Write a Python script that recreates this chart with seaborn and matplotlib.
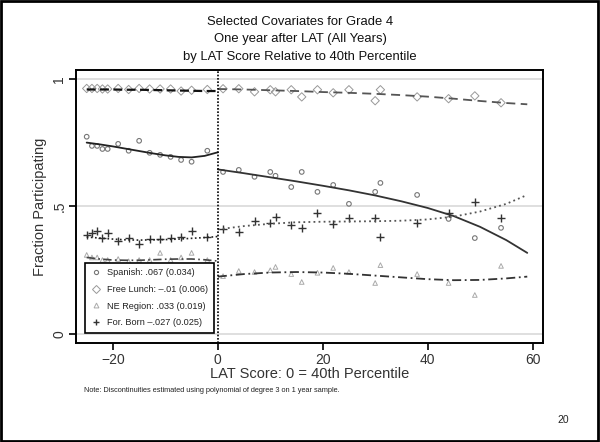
import numpy as np
import pandas as pd
import matplotlib
matplotlib.use("Agg")
import matplotlib.pyplot as plt
from matplotlib.lines import Line2D
from matplotlib.patches import Rectangle
import seaborn as sns

# ---------------- data ----------------
x_left = [-25, -24, -23, -22, -21, -19, -17, -15, -13, -11, -9, -7, -5, -2]
x_right = [1, 4, 7, 10, 11, 14, 16, 19, 22, 25, 30, 31, 38, 44, 49, 54]

spanish_left = [0.773, 0.737, 0.737, 0.725, 0.725, 0.745, 0.718, 0.757, 0.71, 0.702, 0.694, 0.682, 0.675, 0.718]
spanish_right = [0.635, 0.643, 0.616, 0.635, 0.62, 0.576, 0.635, 0.557, 0.584, 0.51, 0.557, 0.592, 0.545, 0.451, 0.376, 0.416]

lunch_left = [0.962, 0.962, 0.962, 0.96, 0.96, 0.962, 0.958, 0.962, 0.96, 0.96, 0.96, 0.952, 0.955, 0.958]
lunch_right = [0.961, 0.961, 0.949, 0.957, 0.949, 0.957, 0.929, 0.957, 0.945, 0.957, 0.914, 0.957, 0.929, 0.922, 0.933, 0.906]

ne_left = [0.31, 0.30, 0.30, 0.29, 0.29, 0.294, 0.285, 0.29, 0.29, 0.318, 0.29, 0.30, 0.318, 0.29]
ne_right = [0.227, 0.247, 0.243, 0.25, 0.263, 0.235, 0.204, 0.24, 0.259, 0.243, 0.2, 0.27, 0.235, 0.2, 0.153, 0.267]

born_left = [0.388, 0.396, 0.404, 0.376, 0.396, 0.365, 0.376, 0.353, 0.373, 0.373, 0.376, 0.38, 0.404, 0.38]
born_right = [0.412, 0.40, 0.443, 0.435, 0.459, 0.427, 0.416, 0.475, 0.431, 0.455, 0.455, 0.38, 0.435, 0.475, 0.518, 0.455]

# fitted curves (read at grid positions)
fit_x_left = [-25, -22.5, -20, -17.5, -15, -12.5, -10, -7.5, -5, -2.5, 0]
fit_x_right = [0, 5, 10, 15, 20, 25, 30, 35, 40, 45, 50, 55, 59]

spanish_fit_left = [0.75, 0.743, 0.735, 0.726, 0.717, 0.708, 0.70, 0.694, 0.692, 0.698, 0.712]
spanish_fit_right = [0.645, 0.63, 0.614, 0.598, 0.581, 0.563, 0.543, 0.52, 0.494, 0.462, 0.42, 0.368, 0.318]

lunch_fit_left = [0.958, 0.958, 0.958, 0.957, 0.957, 0.956, 0.955, 0.954, 0.953, 0.952, 0.952]
lunch_fit_right = [0.96, 0.958, 0.955, 0.952, 0.948, 0.945, 0.941, 0.936, 0.93, 0.922, 0.913, 0.905, 0.90]

ne_fit_left = [0.30, 0.294, 0.29, 0.289, 0.289, 0.291, 0.293, 0.294, 0.294, 0.291, 0.286]
ne_fit_right = [0.225, 0.235, 0.241, 0.243, 0.241, 0.236, 0.229, 0.222, 0.215, 0.211, 0.212, 0.218, 0.225]

born_fit_left = [0.38, 0.376, 0.372, 0.369, 0.368, 0.369, 0.37, 0.372, 0.375, 0.378, 0.382]
born_fit_right = [0.41, 0.423, 0.432, 0.438, 0.44, 0.441, 0.442, 0.444, 0.449, 0.46, 0.48, 0.51, 0.545]

legend_labels = ["Spanish: .067 (0.034)", "Free Lunch: \u2013.01 (0.006)",
                 "NE Region: .033 (0.019)", "For. Born \u2013.027 (0.025)"]

# ---------------- plotting ----------------
sns.set_style("white")
plt.rcParams['font.family'] = ['Liberation Sans', 'DejaVu Sans']

fig = plt.figure(figsize=(6.0, 4.42), dpi=100)
ax = fig.add_axes([0.127, 0.224, 0.778, 0.618])

# gridlines
for g in [0, 0.5, 1]:
    ax.axhline(g, color="#d9d9d9", lw=1.2, zorder=0)

pts = pd.DataFrame({
    "x": x_left + x_right,
    "spanish": spanish_left + spanish_right,
    "lunch": lunch_left + lunch_right,
    "ne": ne_left + ne_right,
    "born": born_left + born_right,
})

sns.scatterplot(data=pts, x="x", y="lunch", marker="D", s=18, facecolors="none",
                edgecolor="#999999", linewidth=0.7, ax=ax, zorder=3)
sns.scatterplot(data=pts, x="x", y="spanish", marker="o", s=11, facecolors="none",
                edgecolor="#777777", linewidth=0.8, ax=ax, zorder=3)
sns.scatterplot(data=pts, x="x", y="ne", marker="^", s=11, facecolors="none",
                edgecolor="#aaaaaa", linewidth=0.7, ax=ax, zorder=3)
sns.scatterplot(data=pts, x="x", y="born", marker="+", s=26, color="#333333",
                linewidth=1.0, ax=ax, zorder=3)

def fitline(xs, ys, **kw):
    d = pd.DataFrame({"x": xs, "y": ys})
    sns.lineplot(data=d, x="x", y="y", ax=ax, estimator=None, sort=True, **kw)

fitline(fit_x_left, spanish_fit_left, color="#222222", lw=1.3, zorder=4)
fitline(fit_x_right, spanish_fit_right, color="#333333", lw=1.3, zorder=4)
fitline(fit_x_left, lunch_fit_left, color="#111111", lw=1.6, dashes=(4, 2), zorder=4)
fitline(fit_x_right, lunch_fit_right, color="#555555", lw=1.3, dashes=(5, 3), zorder=4)
fitline(fit_x_left, ne_fit_left, color="#444444", lw=1.2, dashes=(5, 2, 1, 2), zorder=4)
fitline(fit_x_right, ne_fit_right, color="#333333", lw=1.3, dashes=(5, 2, 1, 2), zorder=4)
fitline(fit_x_left, born_fit_left, color="#222222", lw=1.2, dashes=(1, 1.5), zorder=4)
fitline(fit_x_right, born_fit_right, color="#555555", lw=1.3, dashes=(1, 1.8), zorder=4)

ax.axvline(0, color="black", lw=1.2, ls=(0, (1, 1)), zorder=5)

ax.set_xlim(-27, 62)
ax.set_ylim(-0.035, 1.035)
ax.set_xticks([-20, 0, 20, 40, 60])
ax.set_xticklabels(["\u221220", "0", "20", "40", "60"])
ax.set_yticks([0, 0.5, 1])
ax.set_yticklabels(["0", ".5", "1"], rotation=90, va="center")
ax.tick_params(axis="both", direction="out", length=5, width=1.2, labelsize=10,
               bottom=True, left=True, colors="black", labelcolor="#333333", pad=2)
for s in ax.spines.values():
    s.set_color("black")
    s.set_linewidth(1.4)

ax.set_xlabel("LAT Score: 0 = 40th Percentile", fontsize=10.5, color="#333333", labelpad=0)
ax.set_ylabel("Fraction Participating", fontsize=10.5, color="#333333", labelpad=4)

handles = [
    Line2D([], [], marker="o", ls="none", ms=3, mfc="none", mec="#777777", mew=0.8),
    Line2D([], [], marker="D", ls="none", ms=4, mfc="none", mec="#999999", mew=0.7),
    Line2D([], [], marker="^", ls="none", ms=3.5, mfc="none", mec="#aaaaaa", mew=0.7),
    Line2D([], [], marker="+", ls="none", ms=5, color="#333333", mew=1.0),
]
leg = ax.legend(handles, legend_labels, loc="lower left", bbox_to_anchor=(0.01, 0.02),
                frameon=True, fancybox=False, edgecolor="black", fontsize=6.6,
                handlelength=1.2, handletextpad=0.6, labelspacing=0.85,
                borderpad=0.6, framealpha=1)
leg.get_frame().set_linewidth(1.2)
for t in leg.get_texts():
    t.set_color("#222222")

fig.text(0.5, 1 - 22 / 442, "Selected Covariates for Grade 4", ha="center", va="center", fontsize=9.4, color="#111111")
fig.text(0.5, 1 - 39 / 442, "One year after LAT (All Years)", ha="center", va="center", fontsize=9.4, color="#111111")
fig.text(0.5, 1 - 57 / 442, "by LAT Score Relative to 40th Percentile", ha="center", va="center", fontsize=9.4, color="#111111")

fig.text(84 / 600, 1 - 391 / 442, "Note: Discontinuities estimated using polynomial of degree 3 on 1 year sample.",
         ha="left", va="center", fontsize=5.3, color="#222222")
fig.text(563 / 600, 1 - 420 / 442, "20", ha="center", va="center", fontsize=7.5, color="#222222")

fig.add_artist(Rectangle((0.002, 0.003), 0.995, 0.994, transform=fig.transFigure,
                         fill=False, edgecolor="black", lw=2))

fig.savefig("out.png", dpi=100, facecolor="white")
